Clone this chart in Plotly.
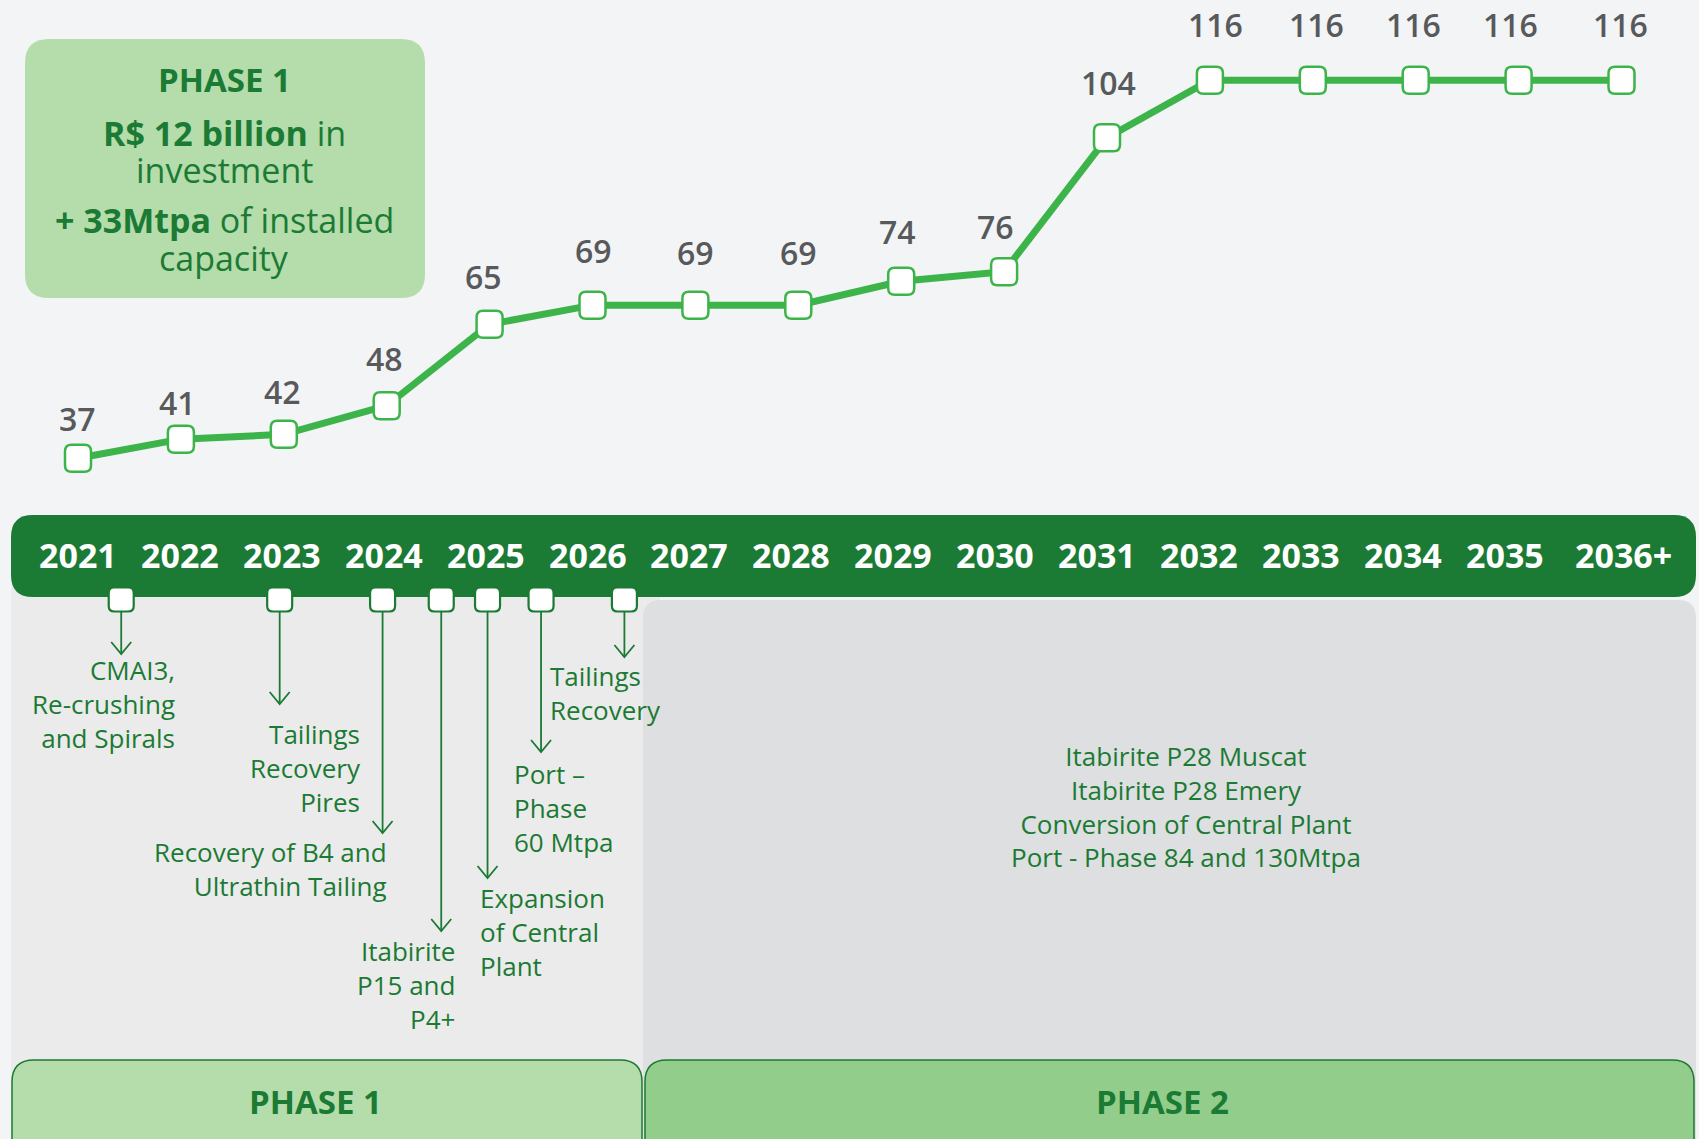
import plotly.graph_objects as go

# ---------------- data ----------------
years = ["2021", "2022", "2023", "2024", "2025", "2026", "2027", "2028",
         "2029", "2030", "2031", "2032", "2033", "2034", "2035", "2036+"]
capacity = [37, 41, 42, 48, 65, 69, 69, 69, 74, 76, 104, 116, 116, 116, 116, 116]

milestone_labels = [
    ["CMAI3,", "Re-crushing", "and Spirals"],
    ["Tailings", "Recovery", "Pires"],
    ["Recovery of B4 and", "Ultrathin Tailing"],
    ["Itabirite", "P15 and", "P4+"],
    ["Expansion", "of Central", "Plant"],
    ["Port \u2013", "Phase", "60 Mtpa"],
    ["Tailings", "Recovery"],
]
# position of each milestone on the year axis (index units)
milestone_pos = [0.42, 1.96, 2.96, 3.53, 3.98, 4.50, 5.31]

phase2_projects = ["Itabirite P28 Muscat", "Itabirite P28 Emery",
                   "Conversion of Central Plant", "Port - Phase 84 and 130Mtpa"]
phase_titles = ["PHASE 1", "PHASE 2"]
box_title = "PHASE 1"
box_lines = ["<b>R$ 12 billion</b> in", "investment",
             "<b>+ 33Mtpa</b> of installed", "capacity"]

# ---------------- layout constants ----------------
W, H = 1699, 1139
FONT = "Open Sans"
DARK = "#1b7a33"
LINE_GREEN = "#3cb44a"
LABEL_GREY = "#58595b"
BG = "#f3f4f6"
LIGHT_GREEN = "#b5dcab"
MID_GREEN = "#93cd8b"
PANEL1 = "#ebebeb"
PANEL2 = "#dedfe1"

X0_PX, STEP = 78.0, 102.9
Y_REF_V, Y_REF_PX, Y_SCALE = 37.0, 458.3, 4.785

x_idx = list(range(len(years)))
x_range = [-X0_PX / STEP, (W - X0_PX) / STEP]
y_range = [Y_REF_V - (H - Y_REF_PX) / Y_SCALE, Y_REF_V + Y_REF_PX / Y_SCALE]


def fx(px):
    return px / W


def fy(py):
    return 1 - py / H


def rrect_paper(x0, y0, x1, y1, r):
    def P(x, y):
        return f"{fx(x):.6f},{fy(y):.6f}"
    s = f"M {P(x0 + r, y0)} L {P(x1 - r, y0)} Q {P(x1, y0)} {P(x1, y0 + r)} "
    s += f"L {P(x1, y1 - r)} Q {P(x1, y1)} {P(x1 - r, y1)} "
    s += f"L {P(x0 + r, y1)} Q {P(x0, y1)} {P(x0, y1 - r)} "
    s += f"L {P(x0, y0 + r)} Q {P(x0, y0)} {P(x0 + r, y0)} Z"
    return s


def rrect_px(hw, hh, r):
    return (f"M {-hw + r},{-hh} L {hw - r},{-hh} Q {hw},{-hh} {hw},{-hh + r} "
            f"L {hw},{hh - r} Q {hw},{hh} {hw - r},{hh} "
            f"L {-hw + r},{hh} Q {-hw},{hh} {-hw},{hh - r} "
            f"L {-hw},{-hh + r} Q {-hw},{-hh} {-hw + r},{-hh} Z")


shapes = []
annotations = []

# background panels
shapes.append(dict(type="path", xref="paper", yref="paper", layer="below",
                   path=rrect_paper(11, 575, 660, 1160, 20),
                   fillcolor=PANEL1, line=dict(width=0)))
shapes.append(dict(type="path", xref="paper", yref="paper", layer="below",
                   path=rrect_paper(643, 600, 1696, 1160, 18),
                   fillcolor=PANEL2, line=dict(width=0)))
# year band
shapes.append(dict(type="path", xref="paper", yref="paper", layer="below",
                   path=rrect_paper(11, 515, 1696, 597, 22),
                   fillcolor=DARK, line=dict(width=0)))
# top-left info box
shapes.append(dict(type="path", xref="paper", yref="paper", layer="below",
                   path=rrect_paper(25, 39, 425, 298, 24),
                   fillcolor=LIGHT_GREEN, line=dict(width=0)))
# phase boxes
shapes.append(dict(type="path", xref="paper", yref="paper", layer="below",
                   path=rrect_paper(12, 1060, 642, 1180, 22),
                   fillcolor=LIGHT_GREEN, line=dict(color=DARK, width=1.5)))
shapes.append(dict(type="path", xref="paper", yref="paper", layer="below",
                   path=rrect_paper(645, 1060, 1694, 1180, 22),
                   fillcolor=MID_GREEN, line=dict(color=DARK, width=1.5)))

# rounded markers on the capacity line
for xi, v in zip(x_idx, capacity):
    shapes.append(dict(type="path", xref="x", yref="y", layer="above",
                       xsizemode="pixel", ysizemode="pixel", xanchor=xi, yanchor=v,
                       path=rrect_px(13, 13.5, 6.5), fillcolor="white",
                       line=dict(color=LINE_GREEN, width=2.5)))

# data labels
label_dy = [40, 37, 43, 47, 48, 55, 53, 53, 50, 45, 55, 56, 56, 56, 56, 56]
label_dx = [-1, -3, -1, -2, -6, 1, 0, 0, -4, -9, 1, 6, 4, -2, -8, -1]
for xi, v, dx, dy in zip(x_idx, capacity, label_dx, label_dy):
    annotations.append(dict(x=xi, y=v, xref="x", yref="y", text=str(v), showarrow=False,
                            xshift=dx, yshift=dy, xanchor="center", yanchor="middle",
                            font=dict(family=FONT, size=32, color=LABEL_GREY, weight=600)))

# year labels in the band
year_dx = [-i for i in range(len(years) - 1)] + [2]
for xi, yr, dx in zip(x_idx, years, year_dx):
    annotations.append(dict(x=xi, y=fy(555), xref="x", yref="paper", text=f"<b>{yr}</b>",
                            showarrow=False, xanchor="center", yanchor="middle", xshift=dx,
                            font=dict(family=FONT, size=34, color="white")))

# milestones: marker on band edge, arrow, label
tips = [654, 704, 833, 931, 878, 752, 657]
text_edge = [(175.5, "right"), (362, "right"), (388, "right"), (456, "right"),
             (479, "left"), (512.5, "left"), (549, "left")]
text_top = [672, 736, 853, 953, 900, 776, 677]
LINE_H = 31.7
for pos, tip, (ex, side), ty, lines in zip(milestone_pos, tips, text_edge, text_top, milestone_labels):
    shapes.append(dict(type="line", xref="x", yref="paper", x0=pos, x1=pos,
                       y0=fy(610), y1=fy(tip), layer="above",
                       line=dict(color=DARK, width=1.8)))
    shapes.append(dict(type="path", xref="x", yref="paper", xsizemode="pixel",
                       ysizemode="pixel", xanchor=pos, yanchor=fy(tip), layer="above",
                       path="M -10,12 L 0,0 L 10,12", fillcolor="rgba(0,0,0,0)",
                       line=dict(color=DARK, width=1.8)))
    shapes.append(dict(type="path", xref="x", yref="paper", xsizemode="pixel",
                       ysizemode="pixel", xanchor=pos, yanchor=fy(599.5), layer="above",
                       path=rrect_px(12.5, 12, 5.5), fillcolor="white",
                       line=dict(color=DARK, width=2.2)))
    center = ty + (len(lines) - 1) * LINE_H / 2
    annotations.append(dict(x=fx(ex), y=fy(center), xref="paper", yref="paper",
                            text="<br>".join(lines), showarrow=False, xanchor=side,
                            yanchor="middle", align=side, borderpad=0,
                            font=dict(family=FONT, size=26, color=DARK)))

# phase 2 projects
annotations.append(dict(x=fx(1186), y=fy(758.5 + 3 * 31.8 / 2), xref="paper", yref="paper",
                        text="<br>".join(phase2_projects), showarrow=False,
                        xanchor="center", yanchor="middle", align="center", borderpad=0,
                        font=dict(family=FONT, size=26, color=DARK)))

# phase titles
for cx, t in zip([315, 1162], phase_titles):
    annotations.append(dict(x=fx(cx), y=fy(1101.5), xref="paper", yref="paper",
                            text=f"<b>{t}</b>", showarrow=False, xanchor="center",
                            yanchor="middle", font=dict(family=FONT, size=33, color=DARK)))

# info box text
annotations.append(dict(x=fx(224), y=fy(79), xref="paper", yref="paper",
                        text=f"<b>{box_title}</b>", showarrow=False, xanchor="center",
                        yanchor="middle", font=dict(family=FONT, size=33, color=DARK)))
for cy, t in zip([133, 169.5, 220, 258], box_lines):
    annotations.append(dict(x=fx(224), y=fy(cy), xref="paper", yref="paper",
                            text=t, showarrow=False, xanchor="center", yanchor="middle",
                            borderpad=0, font=dict(family=FONT, size=34, color=DARK)))

fig = go.Figure()
fig.add_trace(go.Scatter(x=x_idx, y=capacity, mode="lines",
                         line=dict(color=LINE_GREEN, width=7),
                         cliponaxis=False, hoverinfo="skip", showlegend=False))

fig.update_layout(
    width=W, height=H,
    margin=dict(l=0, r=0, t=0, b=0),
    paper_bgcolor=BG, plot_bgcolor="rgba(0,0,0,0)",
    xaxis=dict(visible=False, range=x_range, fixedrange=True),
    yaxis=dict(visible=False, range=y_range, fixedrange=True),
    shapes=shapes, annotations=annotations,
    showlegend=False,
)

fig.write_html("out.html", config={"displayModeBar": False},
               post_script="document.body.style.margin='0';document.body.style.overflow='hidden';")
